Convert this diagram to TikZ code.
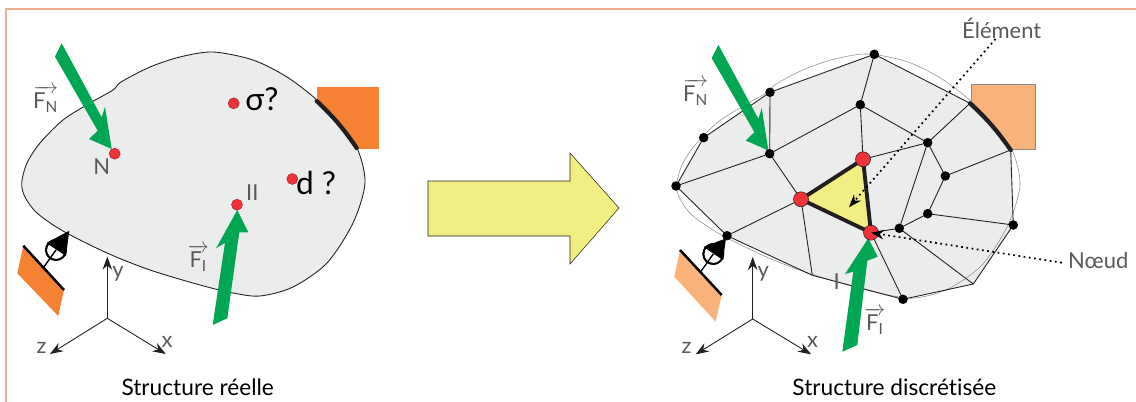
\documentclass[tikz,border=0pt]{standalone}
\usepackage{amsmath}
\usepackage{fontspec}
\setmainfont[Ligatures=NoCommon]{Lato}
\usetikzlibrary{arrows.meta,positioning,calc}
\definecolor{meFrame}{HTML}{EDAE90}
\definecolor{meBody}{HTML}{EBEDED}
\definecolor{meLine}{HTML}{231F20}
\definecolor{meText}{HTML}{58595B}
\definecolor{meGreen}{HTML}{00A651}
\definecolor{meOrange}{HTML}{F58233}
\definecolor{meOrangeL}{HTML}{FAB27B}
\definecolor{meRed}{HTML}{EF3339}
\definecolor{meYellow}{HTML}{F2EF82}
\tikzset{
  me/.style={font=\fontsize{12.5}{14}\selectfont, line width=.5pt, >={Stealth[length=2.6mm, width=1.9mm]}},
  body/.style={draw=meLine, fill=meBody, line width=.5pt},
  outl/.style={draw=black!45, line width=.3pt},
  force/.style={fill=meGreen},
  wall/.style={line width=1.4pt, draw=black},
  clamp/.style={line width=2.4pt, draw=meLine, line cap=round},
  axis/.style={->, draw=meLine, line width=.5pt},
  mesh/.style={draw=meLine, line width=.5pt},
  elem/.style={draw=meLine, line width=2.2pt},
  leader/.style={->, draw=black, line width=1pt, dotted},
  lbl/.style={text=meText, inner sep=0pt},
  big/.style={text=black, inner sep=0pt, font=\fontsize{18}{20}\selectfont},
  title/.style={text=black, inner sep=0pt, font=\fontsize{12.9}{15}\selectfont},
  pt/.style={circle, draw=meRed!70!black, line width=.3pt, fill=meRed, inner sep=0pt, minimum size=2.2mm},
  knot/.style={circle, fill=black, inner sep=0pt, minimum size=1.9mm},
  bigpt/.style={circle, draw=meLine, line width=.3pt, fill=meRed, inner sep=0pt, minimum size=3mm},
}
\newcommand{\blobpath}{plot[smooth cycle, tension=.5] coordinates {
  (21.7,183) (27,163) (40,143) (63,120) (90,103) (113,90) (121,82) (150,67) (180,57) (213,52)
  (253,60) (287,77) (317,100) (337,122) (357,148) (365,183) (353,223)
  (327,263) (293,287) (260,296) (233,293) (200,285) (150,270) (107,253)
  (63,231) (37,213) (25,197)}}
\newcommand{\forcelbl}[1]{$\overrightarrow{\mbox{F\textsubscript{#1}}}$}

\begin{document}
\begin{tikzpicture}[me, x=.02cm, y=-.02cm]
\useasboundingbox (0,0) rectangle (1136,402);
\coordinate (frA) at (6,402);
\coordinate (frB) at (6,9);
\coordinate (frC) at (1136,9);
\draw[meFrame, line width=.9pt] (frA) -- (frB) -- (frC);

% structure reelle
\fill[meOrange] (317,87) rectangle (379,148.7);
\draw[body] \blobpath;
\coordinate (clA) at (316.7,101);
\coordinate (clB) at (356.7,148);
\draw[clamp] (clA) to[bend left=6] (clB);

\coordinate (waA) at (23.3,245.7);
\coordinate (waB) at (64,290);
\fill[meOrange] (waA) -- (waB) -- (58.3,316) -- (17.3,273.3) -- cycle;
\draw[wall] (waA) -- (waB);
\node[circle, draw=black, line width=1pt, fill=white, inner sep=0pt, minimum size=4mm] (roA) at (56,250) {};
\fill[black] (69.3,230.7) -- (46.5,243) -- (66,256) -- cycle;
\coordinate (waMidA) at (43.5,267.5);
\draw[line width=.8pt] (waMidA) -- (roA.center);
\draw[line width=1pt] (roA) circle (10);

\fill[force] (61.7,43.3) -- (55,56.7) -- (97.7,130.7) -- (89,139) -- (111.7,149) -- (105,106.7) -- (101.7,117.3) -- cycle;
\fill[force] (212.7,325) -- (227.3,318.3) -- (239.3,232.3) -- (248.3,232.3) -- (237.3,210) -- (216,248.3) -- (225,242.7) -- cycle;

\node[pt] (ptN) at (114.7,153.7) {};
\node[pt] (ptS) at (233.7,103.3) {};
\node[pt] (ptD) at (292.3,179) {};
\node[pt] (ptI) at (237,204.7) {};

\node[lbl] (lblN) at (101.7,166.7) {N};
\node[lbl] (lblI) at (252.3,192.7) {II};
\node[big] (lblS) at (262,99.3) {σ?};
\node[big] (lblD) at (316,183) {d ?};
\node[lbl] (lblFnA) at (45.7,99) {\forcelbl{N}};
\node[lbl] (lblFiA) at (198.3,258) {\forcelbl{I}};

\coordinate (axA) at (107.3,318.3);
\coordinate (axAy) at (107.3,256.7);
\coordinate (axAz) at (50,354);
\coordinate (axAx) at (165.7,354);
\draw[axis] (axA) -- (axAy);
\draw[axis] (axA) -- (axAz);
\draw[axis] (axA) -- (axAx);
\node[lbl] (lblyA) at (118,274) {y};
\node[lbl] (lblzA) at (41.7,348) {z};
\node[lbl] (lblxA) at (167,342) {x};
\node[title] (capA) at (197.7,387.7) {Structure réelle};

% fleche
\draw[fill=meYellow, draw=meLine, line width=.3pt] (428,181) -- (570,181) -- (570,153) -- (619,208) -- (570,264) -- (570,236) -- (428,236) -- cycle;

% structure discretisee
\draw[outl, fill=meOrangeL] (971,84.3) rectangle (1035,149.3);
\coordinate (mA) at (676,186);
\coordinate (mB) at (703.7,137.7);
\coordinate (mC) at (770,92.3);
\coordinate (mD) at (874.3,54.3);
\coordinate (mE) at (860.3,104.7);
\coordinate (mF) at (769.7,153.7);
\coordinate (mG) at (927.7,142.7);
\coordinate (mH) at (970,103.3);
\coordinate (mI) at (1010.7,150);
\coordinate (mJ) at (945.3,176);
\coordinate (mK) at (927.7,213.7);
\coordinate (mL) at (1013.3,225);
\coordinate (mM) at (899.3,228.3);
\coordinate (mN) at (973.3,284);
\coordinate (mO) at (903,299.3);
\coordinate (mP) at (812.3,275.3);
\coordinate (mQ) at (727,235.7);
\coordinate (mR) at (863,159.3);
\coordinate (mS) at (801,199.3);
\coordinate (mT) at (871,232.7);
\fill[meBody] (mA) -- (mB) -- (mC) -- (mD) -- (mH) -- (mI) -- (mL) -- (mN) -- (mO) -- (mP) -- (mQ) -- cycle;
\draw[outl, shift={(655,2)}] \blobpath;
\foreach \a/\b in {mA/mB,mB/mC,mC/mD,mD/mH,mI/mL,mL/mN,mN/mO,mO/mP,mP/mQ,mQ/mA,
  mC/mF,mF/mA,mF/mE,mF/mS,mE/mD,mE/mR,mE/mG,mG/mH,mG/mR,mG/mJ,mG/mM,mJ/mI,mJ/mK,
  mK/mL,mK/mM,mM/mN,mM/mT,mT/mO,mS/mQ,mS/mP}
  \draw[mesh] (\a) -- (\b);
\fill[meYellow] (mR) -- (mS) -- (mT) -- cycle;
\draw[elem] (mR) -- (mS) -- (mT) -- cycle;
\draw[clamp] (mH) to[bend left=6] (mI);

\coordinate (waC) at (680,250);
\coordinate (waD) at (721.7,295);
\fill[meOrangeL] (waC) -- (waD) -- (715.7,321.7) -- (674.3,276.7) -- cycle;
\draw[wall] (waC) -- (waD);
\node[circle, draw=black, line width=1pt, fill=white, inner sep=0pt, minimum size=4mm] (roB) at (713.3,254) {};
\fill[black] (726,238.3) -- (703.5,247) -- (723,260) -- cycle;
\coordinate (waMidB) at (700.7,271.7);
\draw[line width=.8pt] (waMidB) -- (roB.center);
\draw[line width=1pt] (roB) circle (10);

\fill[force] (718.4,44.8) -- (711.7,58.2) -- (754.4,132.2) -- (745.7,140.5) -- (768.4,150.5) -- (761.7,108.2) -- (758.4,118.8) -- cycle;
\fill[force] (842.3,351.7) -- (857.3,345) -- (867.3,260.7) -- (877.7,256.7) -- (868.3,238.3) -- (845,274) -- (853.3,271.7) -- cycle;

\foreach \n in {mA,mB,mC,mD,mE,mF,mG,mJ,mK,mL,mM,mO,mQ}
  \node[knot] (k\n) at (\n) {};
\foreach \n in {mR,mS,mT}
  \node[bigpt] (k\n) at (\n) {};

\node[lbl] (lblFnB) at (695.7,92) {\forcelbl{N}};
\node[lbl] (lblFiB) at (875,321) {\forcelbl{I}};
\node[lbl] (lblIb) at (836.7,281.7) {I};

\coordinate (axB) at (752.7,319);
\coordinate (axBy) at (752.7,257);
\coordinate (axBz) at (695.7,354.3);
\coordinate (axBx) at (811,354.3);
\draw[axis] (axB) -- (axBy);
\draw[axis] (axB) -- (axBz);
\draw[axis] (axB) -- (axBx);
\node[lbl] (lblyB) at (763.3,274) {y};
\node[lbl] (lblzB) at (686.7,348) {z};
\node[lbl] (lblxB) at (812.7,342) {x};

\node[lbl] (lblElem) at (1001.7,28.3) {Élément};
\node[lbl] (lblNoeud) at (1098.3,260.7) {Nœud};
\coordinate (elemTip) at (849,207.3);
\draw[leader] (lblElem.240) -- (elemTip);
\draw[leader] ($(lblNoeud.west)+(-6,2)$) -- (kmT.center);
\node[title] (capB) at (894.3,387.7) {Structure discrétisée};
\end{tikzpicture}
\end{document}
